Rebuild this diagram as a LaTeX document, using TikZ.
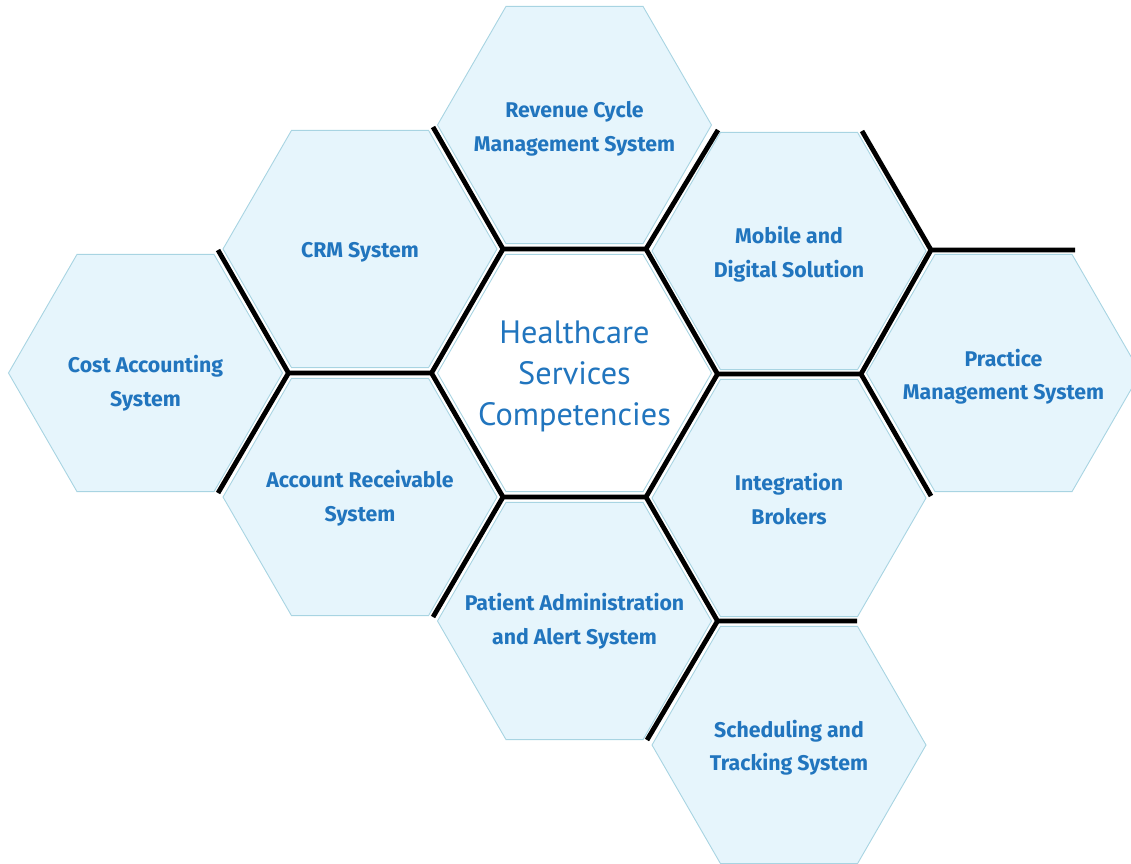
\documentclass[tikz,border=0pt]{standalone}
\usepackage{fontspec}
\setmainfont{PT Sans}
\newfontfamily\lblfont{Fira Sans}
\usetikzlibrary{shapes.geometric}
\definecolor{hexfill}{RGB}{230,245,252}
\definecolor{hexline}{RGB}{168,212,226}
\definecolor{txtblue}{RGB}{33,117,190}
\tikzset{
  hexbox/.style={regular polygon, regular polygon sides=6, minimum size=274pt,
    inner sep=0pt, fill=hexfill, draw=hexline, line width=0.9pt},
  hexcore/.style={hexbox, fill=white},
  lbl/.style={text=txtblue, align=center, font=\lblfont\bfseries\fontsize{21.3}{33.5}\selectfont},
  corelbl/.style={text=txtblue, align=center, font=\fontsize{32.3}{41}\selectfont},
  grid/.style={line width=4.8pt, black, line cap=butt, line join=miter}
}
\begin{document}
\begin{tikzpicture}[x=1pt,y=-1pt]
\useasboundingbox (0,0) rectangle (1131,863);
% hexagons
\node[hexcore] (core) at (574.5,373) {};
\node[hexbox] (rev)  at (574.5,125) {};
\node[hexbox] (crm)  at (360,249) {};
\node[hexbox] (cost) at (145.5,373) {};
\node[hexbox] (acr)  at (360,497) {};
\node[hexbox] (pat)  at (574.5,621) {};
\node[hexbox] (mob)  at (789,251) {};
\node[hexbox] (intg) at (789,498) {};
\node[hexbox] (prac) at (1003.5,373) {};
\node[hexbox] (sch)  at (789,745) {};
% labels
\node[corelbl] (coreT) at ([yshift=-3pt]core.center) {Healthcare\\Services\\Competencies};
\node[lbl] (revT)  at ([yshift=-4pt]rev.center) {Revenue Cycle\\Management System};
\node[lbl] (crmT)  at ([yshift=-3pt]crm.center) {CRM System};
\node[lbl] (costT) at ([yshift=-10pt]cost.center) {Cost Accounting\\System};
\node[lbl] (acrT)  at ([yshift=-1pt]acr.center) {Account Receivable\\System};
\node[lbl] (patT)  at ([yshift=0pt]pat.center) {Patient Administration\\and Alert System};
\node[lbl] (mobT)  at ([yshift=-3pt]mob.center) {Mobile and\\Digital Solution};
\node[lbl] (intgT) at ([yshift=-1pt]intg.center) {Integration\\Brokers};
\node[lbl] (pracT) at ([yshift=-3.5pt]prac.center) {Practice\\Management System};
\node[lbl] (schT)  at ([yshift=-2.5pt]sch.center) {Scheduling and\\Tracking System};
% grid vertices
\coordinate (vL)  at (431.5,373);
\coordinate (vTL) at (503,249);
\coordinate (vTR) at (646,249);
\coordinate (vR)  at (717.5,374);
\coordinate (vBR) at (646,497);
\coordinate (vBL) at (503,497);
\coordinate (a1) at (433,127);
\coordinate (a2) at (718,130);
\coordinate (b1) at (861,374);
\coordinate (b2) at (931,250);
\coordinate (b2e) at (1075,250);
\coordinate (b2t) at (862,131);
\coordinate (b3) at (931,496);
\coordinate (c1) at (717.5,621);
\coordinate (c1e) at (857,621);
\coordinate (c1b) at (647,740);
\coordinate (d1) at (433,617);
\coordinate (e1) at (288.5,373);
\coordinate (e1t) at (218,250);
\coordinate (e1b) at (218,493);
% black lines
\draw[grid] (vL) -- (vTL) -- (vTR) -- (vR) -- (vBR) -- (vBL) -- cycle;
\draw[grid] (a1) -- (vTL);
\draw[grid] (a2) -- (vTR);
\draw[grid] (vR) -- (b1) -- (b2) -- (b2e);
\draw[grid] (b2t) -- (b2);
\draw[grid] (b1) -- (b3);
\draw[grid] (vBR) -- (c1) -- (c1e);
\draw[grid] (c1) -- (c1b);
\draw[grid] (vBL) -- (d1);
\draw[grid] (vL) -- (e1) -- (e1t);
\draw[grid] (e1) -- (e1b);
\end{tikzpicture}
\end{document}
